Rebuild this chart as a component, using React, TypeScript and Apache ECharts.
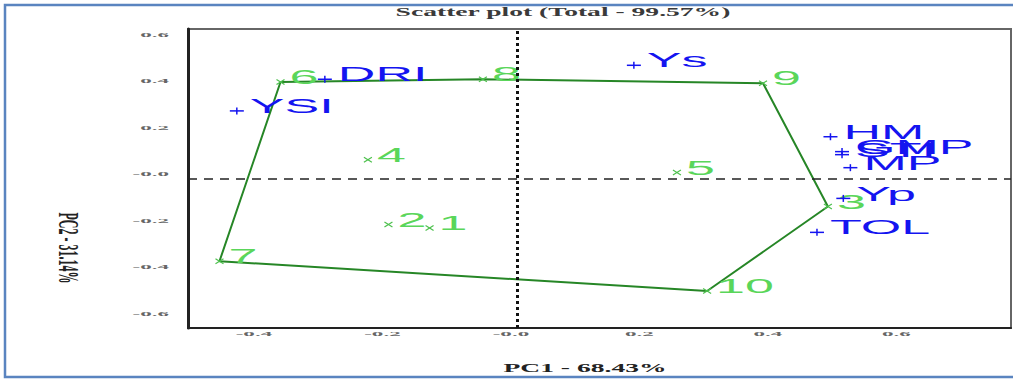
import React, { useEffect, useRef } from "react";
import * as echarts from "echarts";

// ---- data ----
const X_MIN = -0.512;
const X_MAX = 0.769;
const Y_MIN = -0.64;
const Y_MAX = 0.645;

const xTicks = [-0.4, -0.2, 0, 0.2, 0.4, 0.6];
const xTickLabels = ["-0.4", "-0.2", "-0.0", "0.2", "0.4", "0.6"];
const yTicks = [0.6, 0.4, 0.2, 0, -0.2, -0.4, -0.6];
const yTickLabels = ["0.6", "0.4", "0.2", "-0.0", "-0.2", "-0.4", "-0.6"];

const genoNames = ["1", "2", "3", "4", "5", "6", "7", "8", "9", "10"];
const genoX = [-0.136, -0.2, 0.484, -0.232, 0.249, -0.368, -0.463, -0.053, 0.383, 0.296];
const genoY = [-0.21, -0.195, -0.118, 0.083, 0.028, 0.417, -0.353, 0.429, 0.412, -0.481];

const traitNames = ["YSI", "DRI", "Ys", "HM", "GMP", "STI", "MP", "Yp", "TOL"];
const traitX = [-0.436, -0.299, 0.182, 0.488, 0.506, 0.506, 0.519, 0.508, 0.467];
const traitY = [0.293, 0.429, 0.489, 0.182, 0.118, 0.105, 0.049, -0.083, -0.229];

const hullOrder = ["6", "8", "9", "3", "10", "7", "6"];

const titleText = "Scatter plot (Total - 99.57%)";
const xTitle = "PC1 - 68.43%";
const yTitle = "PC2 - 31.14%";

// ---- styles ----
const BLUE = "#1414f0";
const GREEN_TEXT = "#5ad65a";
const GREEN_MARK = "#4cc04c";
const HULL = "#268626";
const LABEL_SCALE = 2.6;

export default function App() {
  const ref = useRef<HTMLDivElement>(null);

  useEffect(() => {
    document.body.style.margin = "0";
    document.body.style.overflow = "hidden";
    if (!ref.current) return;
    const chart = echarts.init(ref.current, undefined, { renderer: "svg" });

    const hullData = hullOrder.map((n) => {
      const i = genoNames.indexOf(n);
      return [genoX[i], genoY[i]];
    });

    const textStyle = (text: string, fill: string, font: string, align: string, vAlign: string) => ({
      text,
      fill,
      font,
      align,
      verticalAlign: vAlign,
      textAlign: align,
      textVerticalAlign: vAlign,
    });

    const option: any = {
      animation: false,
      backgroundColor: "#ffffff",
      grid: {
        left: 188,
        right: 2,
        top: 29,
        bottom: 52,
        show: true,
        borderColor: "#666",
        borderWidth: 2,
        backgroundColor: "transparent",
      },
      xAxis: {
        type: "value",
        min: X_MIN,
        max: X_MAX,
        axisLine: { show: true, onZero: false, lineStyle: { color: "#222", width: 2 } },
        axisTick: { show: false },
        axisLabel: { show: false },
        splitLine: { show: false },
      },
      yAxis: {
        type: "value",
        min: Y_MIN,
        max: Y_MAX,
        axisLine: { show: true, onZero: false, lineStyle: { color: "#222", width: 3 } },
        axisTick: { show: false },
        axisLabel: { show: false },
        splitLine: { show: false },
      },
      graphic: [
        {
          type: "rect",
          shape: { x: 5, y: 5, width: 1030, height: 372 },
          style: { fill: "none", stroke: "#5a84c0", lineWidth: 2.5 },
          z: 100,
        },
        {
          type: "text",
          x: 563,
          y: 12,
          scaleX: 2.3,
          style: textStyle(titleText, "#3a3a3a", 'bold 12px "Liberation Serif"', "center", "middle"),
        },
        {
          type: "text",
          x: 585,
          y: 368,
          scaleX: 2.3,
          style: textStyle(xTitle, "#222", 'bold 12px "Liberation Serif"', "center", "middle"),
        },
        {
          type: "text",
          x: 69,
          y: 248,
          rotation: -Math.PI / 2,
          scaleY: 2.5,
          style: textStyle(yTitle, "#222", 'bold 12px "Liberation Serif"', "center", "middle"),
        },
      ],
      series: [
        {
          type: "line",
          data: hullData,
          symbol: "none",
          lineStyle: { color: HULL, width: 2 },
          z: 2,
          markLine: {
            silent: true,
            symbol: "none",
            label: { show: false },
            data: [
              { xAxis: 0, lineStyle: { color: "#111", width: 3, type: [3, 3] } },
              { yAxis: 0, lineStyle: { color: "#222", width: 1.5, type: [9, 7] } },
            ],
          },
        },
        {
          type: "custom",
          name: "genotypes",
          data: genoNames.map((_, i) => [genoX[i], genoY[i]]),
          z: 4,
          renderItem: (params: any, api: any) => {
            const p = api.coord([api.value(0), api.value(1)]);
            const name = genoNames[params.dataIndex];
            return {
              type: "group",
              children: [
                { type: "line", shape: { x1: p[0] - 4, y1: p[1] - 2.5, x2: p[0] + 4, y2: p[1] + 2.5 }, style: { stroke: GREEN_MARK, lineWidth: 1.2 } },
                { type: "line", shape: { x1: p[0] - 4, y1: p[1] + 2.5, x2: p[0] + 4, y2: p[1] - 2.5 }, style: { stroke: GREEN_MARK, lineWidth: 1.2 } },
                {
                  type: "text",
                  x: p[0] + 9,
                  y: p[1] - 5,
                  scaleX: LABEL_SCALE,
                  style: textStyle(name, GREEN_TEXT, '20px "Liberation Sans"', "left", "middle"),
                },
              ],
            };
          },
        },
        {
          type: "custom",
          name: "traits",
          data: traitNames.map((_, i) => [traitX[i], traitY[i]]),
          z: 5,
          renderItem: (params: any, api: any) => {
            const p = api.coord([api.value(0), api.value(1)]);
            const name = traitNames[params.dataIndex];
            return {
              type: "group",
              children: [
                { type: "line", shape: { x1: p[0] - 7, y1: p[1], x2: p[0] + 7, y2: p[1] }, style: { stroke: BLUE, lineWidth: 1.5 } },
                { type: "line", shape: { x1: p[0], y1: p[1] - 3.5, x2: p[0], y2: p[1] + 3.5 }, style: { stroke: BLUE, lineWidth: 1.5 } },
                {
                  type: "text",
                  x: p[0] + 13,
                  y: p[1] - 5,
                  scaleX: LABEL_SCALE,
                  style: textStyle(name, BLUE, '20px "Liberation Sans"', "left", "middle"),
                },
              ],
            };
          },
        },
        {
          type: "custom",
          name: "xticks",
          silent: true,
          data: xTicks.map((v) => [v, Y_MIN]),
          renderItem: (params: any, api: any) => {
            const p = api.coord([api.value(0), api.value(1)]);
            return {
              type: "text",
              x: p[0] - 6,
              y: p[1] + 6,
              scaleX: 3.3,
              style: textStyle(xTickLabels[params.dataIndex], "#666", 'bold 7px "Liberation Serif"', "center", "middle"),
            };
          },
        },
        {
          type: "custom",
          name: "yticks",
          silent: true,
          data: yTicks.map((v) => [X_MIN, v]),
          renderItem: (params: any, api: any) => {
            const p = api.coord([api.value(0), api.value(1)]);
            return {
              type: "text",
              x: p[0] - 19,
              y: p[1] - 5,
              scaleX: 3.3,
              style: textStyle(yTickLabels[params.dataIndex], "#666", 'bold 7px "Liberation Serif"', "right", "middle"),
            };
          },
        },
      ],
    };

    chart.setOption(option);
    return () => chart.dispose();
  }, []);

  return <div ref={ref} style={{ width: 1013, height: 380 }} />;
}
